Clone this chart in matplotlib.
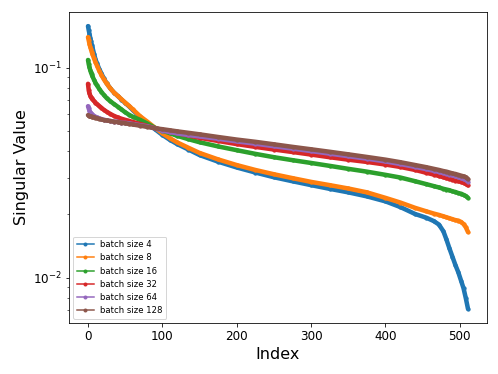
import matplotlib
matplotlib.use('Agg')
import matplotlib.pyplot as plt
from matplotlib.lines import Line2D

idx = [0, 1, 2, 3, 4, 5, 6, 8, 10, 12, 15, 18, 21, 25, 30, 35, 40, 45, 50, 55,
       60, 70, 80, 90, 100, 110, 120, 135, 150, 175, 200, 225, 250, 275, 300,
       325, 350, 375, 400, 420, 440, 455, 465, 472, 478, 482, 486, 490, 494,
       498, 502, 505, 508, 511]

bs4 = [0.158, 0.151, 0.145, 0.139, 0.134, 0.129, 0.125, 0.117, 0.110, 0.105,
       0.099, 0.094, 0.0895, 0.0845, 0.0798, 0.0762, 0.0734, 0.0706, 0.068, 0.0656,
       0.063, 0.0583, 0.0546, 0.051, 0.0479, 0.0454, 0.0433, 0.0408, 0.0384, 0.0357,
       0.0335, 0.0317, 0.0301, 0.0288, 0.0276, 0.0265, 0.0255, 0.0244, 0.0231,
       0.0217, 0.0201, 0.0193, 0.0186, 0.0179, 0.0166, 0.0152, 0.0138, 0.0126,
       0.0115, 0.0106, 0.0096, 0.0089, 0.0080, 0.0071]

bs8 = [0.140, 0.135, 0.130, 0.126, 0.1225, 0.119, 0.1165, 0.111, 0.1065, 0.1025,
       0.097, 0.0925, 0.0885, 0.0842, 0.0798, 0.0762, 0.0735, 0.0708, 0.0683, 0.066,
       0.0635, 0.0588, 0.0553, 0.0518, 0.0487, 0.0462, 0.0441, 0.0416, 0.0393, 0.0366,
       0.0344, 0.0326, 0.0311, 0.0298, 0.0286, 0.0276, 0.0266, 0.0255, 0.024,
       0.0228, 0.0215, 0.0207, 0.0202, 0.0199, 0.0196, 0.0194, 0.0192, 0.019,
       0.0188, 0.0187, 0.0184, 0.0180, 0.0174, 0.0165]

bs16 = [0.109, 0.104, 0.1005, 0.0975, 0.095, 0.093, 0.0912, 0.0878, 0.085, 0.0825,
        0.0795, 0.0768, 0.0745, 0.0718, 0.0693, 0.0672, 0.0653, 0.0633, 0.0614, 0.0598,
        0.0585, 0.0565, 0.0542, 0.0518, 0.0502, 0.0488, 0.0474, 0.0457, 0.0442, 0.0422,
        0.0405, 0.0389, 0.0375, 0.0363, 0.0352, 0.0341, 0.033, 0.032, 0.0309,
        0.030, 0.0288, 0.0279, 0.0273, 0.0269, 0.0265, 0.0263, 0.0261, 0.0258,
        0.0256, 0.0253, 0.0251, 0.0248, 0.0245, 0.024]

bs32 = [0.0839, 0.078, 0.0755, 0.0738, 0.0725, 0.0715, 0.0708, 0.0695, 0.0683, 0.0672,
        0.0658, 0.0645, 0.0632, 0.0618, 0.0603, 0.059, 0.058, 0.0572, 0.0565, 0.0559,
        0.0552, 0.054, 0.0528, 0.0516, 0.0506, 0.0497, 0.0488, 0.0476, 0.0464, 0.0448,
        0.0433, 0.042, 0.0408, 0.0397, 0.0386, 0.0375, 0.0365, 0.0356, 0.0346,
        0.0337, 0.0326, 0.0316, 0.031, 0.0305, 0.0301, 0.0298, 0.0296, 0.0293,
        0.029, 0.0288, 0.0286, 0.0283, 0.028, 0.0275]

bs64 = [0.0656, 0.064, 0.0625, 0.0615, 0.0608, 0.0602, 0.0598, 0.059, 0.0585, 0.058,
        0.0575, 0.057, 0.0566, 0.0562, 0.0558, 0.0554, 0.0553, 0.0547, 0.0547, 0.0544,
        0.054, 0.0533, 0.0526, 0.0515, 0.0502, 0.0494, 0.0487, 0.0478, 0.0471, 0.0459,
        0.0446, 0.0435, 0.0423, 0.0412, 0.0401, 0.039, 0.0379, 0.0369, 0.0358,
        0.0348, 0.0337, 0.0329, 0.0323, 0.0319, 0.0315, 0.0313, 0.031, 0.0307,
        0.0304, 0.0301, 0.0298, 0.0295, 0.0292, 0.0287]

bs128 = [0.0595, 0.0592, 0.059, 0.0588, 0.0587, 0.0585, 0.0584, 0.0581, 0.0578, 0.0575,
         0.0571, 0.0568, 0.0564, 0.0561, 0.0558, 0.0554, 0.0551, 0.0547, 0.0544, 0.054,
         0.0537, 0.053, 0.0523, 0.0515, 0.051, 0.0504, 0.0498, 0.049, 0.0482, 0.0468,
         0.0455, 0.0444, 0.0432, 0.042, 0.0409, 0.0398, 0.0387, 0.0376, 0.0365,
         0.0355, 0.0344, 0.0336, 0.033, 0.0326, 0.0322, 0.032, 0.0317, 0.0314,
         0.0312, 0.0309, 0.0306, 0.0304, 0.0301, 0.0295]

series = [bs4, bs8, bs16, bs32, bs64, bs128]
labels = ['batch size 4', 'batch size 8', 'batch size 16',
          'batch size 32', 'batch size 64', 'batch size 128']
colors = ['#1f77b4', '#ff7f0e', '#2ca02c', '#d62728', '#9467bd', '#8c564b']

fig = plt.figure(figsize=(498/72, 374/72), dpi=72)
ax = fig.add_axes([69/498, 51/374, 418/498, 311/374])

handles = []
for vals, lab, c in zip(series, labels, colors):
    # thick line stands in for the dense band of per-index markers
    ax.plot(idx, vals, color=c, linewidth=4.5, marker='.', markersize=6.5,
            solid_joinstyle='round', solid_capstyle='round')
    handles.append(Line2D([], [], color=c, marker='.', markersize=6, linewidth=1.5, label=lab))

ax.set_yscale('log')
ax.set_xlabel('Index', fontsize=16)
ax.set_ylabel('Singular Value', fontsize=16)
ax.tick_params(axis='both', which='major', labelsize=12)
ax.set_xticks([0, 100, 200, 300, 400, 500])
ax.legend(handles=handles, loc='lower left', fontsize=8.5)

fig.savefig('out.png', dpi=72)
